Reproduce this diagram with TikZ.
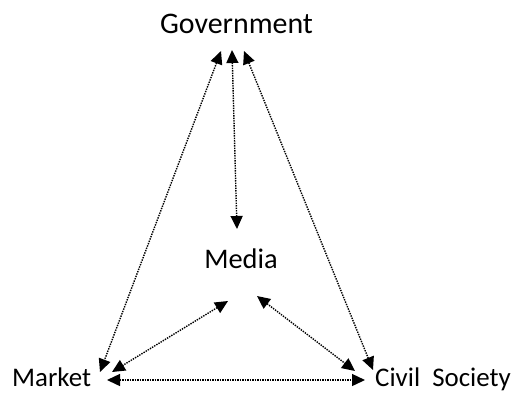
\documentclass[tikz,border=0pt]{standalone}
\usepackage{fontspec}
\setmainfont{Carlito}
\usetikzlibrary{arrows.meta}
\begin{document}
\begin{tikzpicture}[x=1bp,y=-1bp,
  lbl/.style={inner sep=0pt,anchor=base},
  link/.style={line width=1.4bp,dash pattern=on 1.4bp off 1.1bp,
    {Triangle[length=13bp,width=12bp]}-{Triangle[length=13bp,width=12bp]}}]
\useasboundingbox (0,0) rectangle (516,392);
\node[lbl,font=\fontsize{30}{34}\selectfont] (gov) at (236.5,33) {Government};
\node[lbl,font=\fontsize{28.5}{32}\selectfont] (media) at (241,268) {Media};
\node[lbl,anchor=base west,font=\fontsize{27}{31}\selectfont] (market) at (12,386) {Market};
\node[lbl,anchor=base west,font=\fontsize{27}{31}\selectfont] (civil) at (375,386) {Civil\ \ Society};
\coordinate (gL) at (221,51);
\coordinate (gM) at (232,50);
\coordinate (gR) at (244,51);
\coordinate (mTop) at (237,229);
\coordinate (mBL) at (228,301);
\coordinate (mBR) at (257,296);
\coordinate (mkA) at (100,372);
\coordinate (mkB) at (112,372);
\coordinate (mkC) at (107,380);
\coordinate (csA) at (355,371);
\coordinate (csB) at (373,370);
\coordinate (csC) at (365,380);
\draw[link] (gL) -- (mkA);
\draw[link] (gM) -- (mTop);
\draw[link] (gR) -- (csB);
\draw[link] (mBL) -- (mkB);
\draw[link] (mBR) -- (csA);
\draw[link] (mkC) -- (csC);
\end{tikzpicture}
\end{document}
